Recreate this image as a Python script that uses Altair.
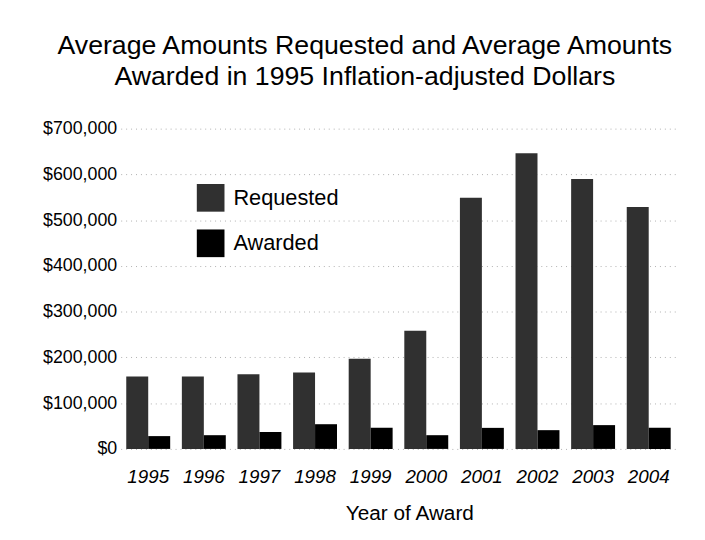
import altair as alt
import pandas as pd

years = ["1995", "1996", "1997", "1998", "1999", "2000", "2001", "2002", "2003", "2004"]
requested = [158000, 158000, 163000, 167000, 197000, 258000, 549000, 646000, 590000, 529000]
awarded = [28000, 30000, 37000, 54000, 46000, 30000, 46000, 41000, 52000, 46000]
series = ["Requested", "Awarded"]
colors = ["#303030", "#000000"]

rows = []
for y, r, a in zip(years, requested, awarded):
    rows.append({"year": y, "series": "Requested", "value": r})
    rows.append({"year": y, "series": "Awarded", "value": a})
df = pd.DataFrame(rows)

FONT = "Liberation Sans"

chart = alt.Chart(df).mark_bar().encode(
    x=alt.X("year:N", sort=years,
            scale=alt.Scale(paddingInner=0.21, paddingOuter=0.1),
            axis=alt.Axis(title="Year of Award", labelAngle=0, labelFontStyle="italic",
                          labelFontSize=19, labelPadding=19, ticks=False, domain=False,
                          titleFontSize=21, titleFontWeight="normal", titlePadding=16,
                          titleX=292, titleAlign="center")),
    xOffset=alt.XOffset("series:N", sort=series, scale=alt.Scale(paddingInner=0, paddingOuter=0)),
    y=alt.Y("value:Q", scale=alt.Scale(domain=[0, 700000], nice=False),
            axis=alt.Axis(title=None, values=[0, 100000, 200000, 300000, 400000, 500000, 600000, 700000],
                          format="$,.0f", labelFontSize=18, labelPadding=4, ticks=False, domain=False,
                          grid=True, gridColor="#b0b0b0", gridDash=[1, 4], gridWidth=1)),
    color=alt.Color("series:N", sort=series,
                    scale=alt.Scale(domain=series, range=colors),
                    legend=alt.Legend(title=None, orient="none", legendX=77, legendY=56,
                                      symbolType="square", symbolSize=784, symbolStrokeWidth=0,
                                      symbolOpacity=1, labelFontSize=22, labelOffset=9,
                                      rowPadding=18, labelColor="#000000")),
).properties(
    width=562,
    height=324,
    title=alt.Title(["Average Amounts Requested and Average Amounts",
                     "Awarded in 1995 Inflation-adjusted Dollars"],
                    fontSize=27, fontWeight="normal", lineHeight=31, dx=-34, offset=29,
                    anchor="middle", color="#000000", font=FONT),
    autosize=alt.AutoSizeParams(type="none"),
    padding={"left": 114, "top": 119, "right": 21, "bottom": 80},
).configure(font=FONT).configure_view(stroke=None).configure_axis(
    labelColor="#000000", titleColor="#000000", labelFont=FONT, titleFont=FONT
).configure_legend(labelFont=FONT)

chart.save("out.html", embed_options={"renderer": "svg", "actions": False})
